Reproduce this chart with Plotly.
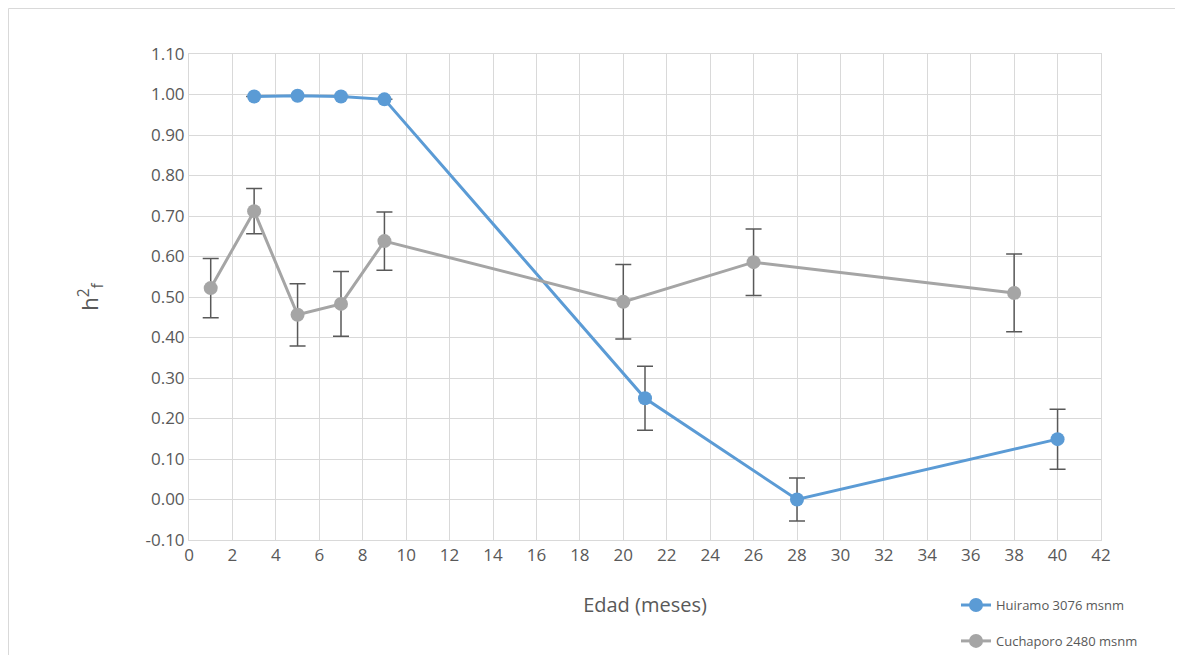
import plotly.graph_objects as go

# Data
hui_x = [3, 5, 7, 9, 21, 28, 40]
hui_y = [0.995, 0.997, 0.995, 0.988, 0.250, 0.000, 0.149]
hui_err = [0, 0, 0, 0, 0.079, 0.053, 0.074]

cuc_x = [1, 3, 5, 7, 9, 20, 26, 38]
cuc_y = [0.522, 0.712, 0.456, 0.483, 0.638, 0.488, 0.586, 0.510]
cuc_err = [0.073, 0.056, 0.077, 0.080, 0.072, 0.092, 0.082, 0.096]

x_ticks = list(range(0, 43, 2))
y_ticks = [round(-0.1 + 0.1 * i, 2) for i in range(13)]

FONT = "Open Sans, Liberation Sans, sans-serif"
TXT = "#595959"

fig = go.Figure()
fig.add_trace(go.Scatter(
    x=hui_x, y=hui_y, mode="lines+markers", name="Huiramo 3076 msnm",
    line=dict(color="#5B9BD5", width=3),
    marker=dict(color="#5B9BD5", size=14),
    error_y=dict(type="data", array=hui_err, visible=True, color="#595959", thickness=1.5, width=8),
    legendgroup="a",
))
fig.add_trace(go.Scatter(
    x=cuc_x, y=cuc_y, mode="lines+markers", name="Cuchaporo 2480 msnm",
    line=dict(color="#A5A5A5", width=3),
    marker=dict(color="#A5A5A5", size=14),
    error_y=dict(type="data", array=cuc_err, visible=True, color="#595959", thickness=1.5, width=8),
    legendgroup="b",
))

fig.update_layout(
    width=1183, height=655,
    margin=dict(l=181, r=90, t=46, b=123, autoexpand=False),
    paper_bgcolor="white", plot_bgcolor="white",
    font=dict(family=FONT, color=TXT, size=17),
    showlegend=True,
    legend=dict(x=0.841, y=-0.103, xanchor="left", yanchor="top",
                font=dict(size=13, color=TXT), traceorder="grouped",
                tracegroupgap=16, bgcolor="rgba(0,0,0,0)"),
    xaxis=dict(range=[0, 42], tickvals=x_ticks, ticktext=[str(v) for v in x_ticks],
               showgrid=True, gridcolor="#D9D9D9", gridwidth=1,
               zeroline=False, showline=True, linecolor="#D9D9D9", mirror=True,
               ticks="", tickfont=dict(size=17, color=TXT),
               title=dict(text="Edad (meses)", font=dict(size=20, color=TXT), standoff=32)),
    yaxis=dict(range=[-0.1, 1.1], tickvals=y_ticks, ticktext=[f"{v:.2f}" for v in y_ticks],
               showgrid=True, gridcolor="#D9D9D9", gridwidth=1,
               zeroline=False, showline=True, linecolor="#D9D9D9", mirror=True,
               ticks="", tickfont=dict(size=17, color=TXT),
               title=dict(text="h<sup>2</sup><sub>f</sub>", font=dict(size=22, color=TXT), standoff=40)),
    shapes=[dict(type="rect", xref="paper", yref="paper",
                 x0=(0.5 - 181) / 912, x1=1.2, y0=-0.5, y1=1 + 45.5 / 486,
                 line=dict(color="#D9D9D9", width=1), fillcolor="rgba(0,0,0,0)", layer="below")],
)

fig.write_html("out.html")
